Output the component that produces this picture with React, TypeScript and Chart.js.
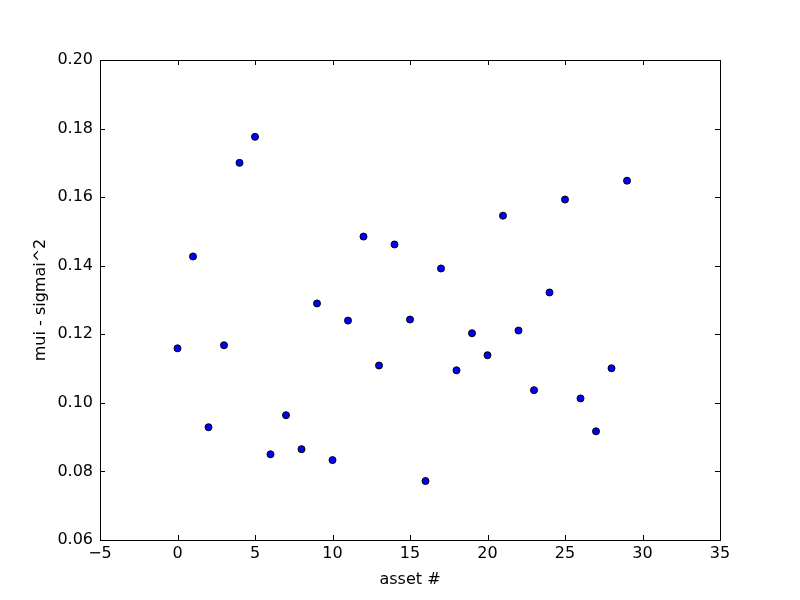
import React, { useEffect, useRef } from "react";
import { Chart, registerables } from "chart.js";

Chart.register(...registerables);

const assetIndex = [0,1,2,3,4,5,6,7,8,9,10,11,12,13,14,15,16,17,18,19,20,21,22,23,24,25,26,27,28,29];
const muiMinusSigma = [
  0.1159, 0.1427, 0.0929, 0.1168, 0.1700, 0.1776, 0.0850, 0.0964, 0.0865, 0.1290,
  0.0833, 0.1240, 0.1485, 0.1109, 0.1462, 0.1243, 0.0772, 0.1392, 0.1095, 0.1203,
  0.1139, 0.1546, 0.1211, 0.1037, 0.1322, 0.1593, 0.1013, 0.0917, 0.1101, 0.1648,
];
const xTicks = [-5, 0, 5, 10, 15, 20, 25, 30, 35];
const yTicks = [0.06, 0.08, 0.10, 0.12, 0.14, 0.16, 0.18, 0.20];
const xTitle = "asset #";
const yTitle = "mui - sigmai^2";

const FONT = "'DejaVu Sans', sans-serif";

const framePlugin = {
  id: "frame",
  afterDatasetsDraw(chart: any) {
    const { ctx, chartArea: a, scales } = chart;
    ctx.save();
    ctx.strokeStyle = "#000";
    ctx.lineWidth = 1;
    const L = 5;
    ctx.beginPath();
    for (const v of xTicks) {
      const px = Math.round(scales.x.getPixelForValue(v)) + 0.5;
      ctx.moveTo(px, a.bottom);
      ctx.lineTo(px, a.bottom - L);
      ctx.moveTo(px, a.top);
      ctx.lineTo(px, a.top + L);
    }
    for (const v of yTicks) {
      const py = Math.round(scales.y.getPixelForValue(v)) + 0.5;
      ctx.moveTo(a.left, py);
      ctx.lineTo(a.left + L, py);
      ctx.moveTo(a.right, py);
      ctx.lineTo(a.right - L, py);
    }
    ctx.stroke();
    ctx.strokeRect(Math.round(a.left) + 0.5, Math.round(a.top) + 0.5, Math.round(a.right - a.left), Math.round(a.bottom - a.top));
    ctx.restore();
  },
};

export default function App() {
  const ref = useRef<HTMLCanvasElement | null>(null);
  useEffect(() => {
    if (!ref.current) return;
    const chart = new Chart(ref.current, {
      type: "scatter",
      data: {
        datasets: [
          {
            data: assetIndex.map((x, i) => ({ x, y: muiMinusSigma[i] })),
            backgroundColor: "#0000ff",
            borderColor: "#000000",
            borderWidth: 1,
            pointRadius: 3.5,
          },
        ],
      },
      options: {
        animation: false,
        responsive: false,
        events: [],
        layout: { padding: { top: 60, right: 80, left: 0, bottom: 0 } },
        plugins: { legend: { display: false }, tooltip: { enabled: false } },
        scales: {
          x: {
            type: "linear",
            min: -5,
            max: 35,
            afterFit: (s: any) => { s.height = 60; },
            afterBuildTicks: (s: any) => { s.ticks = xTicks.map((v) => ({ value: v })); },
            grid: { display: false, drawTicks: false },
            border: { display: false },
            ticks: {
              padding: 4,
              color: "#000",
              font: { family: FONT, size: 16 },
              callback: (v: any) => (v < 0 ? "\u2212" + Math.abs(v) : String(v)),
              maxRotation: 0,
            },
            title: {
              display: true,
              text: xTitle,
              color: "#000",
              font: { family: FONT, size: 16 },
              padding: { top: 0, bottom: 11 },
            },
          },
          y: {
            type: "linear",
            min: 0.06,
            max: 0.2,
            afterFit: (s: any) => { s.width = 100; },
            afterBuildTicks: (s: any) => { s.ticks = yTicks.map((v) => ({ value: v })); },
            grid: { display: false, drawTicks: false },
            border: { display: false },
            ticks: {
              padding: 7,
              color: "#000",
              font: { family: FONT, size: 16 },
              callback: (v: any) => Number(v).toFixed(2),
            },
            title: {
              display: true,
              text: yTitle,
              color: "#000",
              font: { family: FONT, size: 16 },
              padding: { top: 31, bottom: 0 },
            },
          },
        },
      },
      plugins: [framePlugin],
    });
    return () => chart.destroy();
  }, []);
  return (
    <div style={{ position: "fixed", left: 0, top: 0, width: 800, height: 600, background: "#fff" }}>
      <canvas ref={ref} width={800} height={600} style={{ display: "block", width: 800, height: 600 }} />
    </div>
  );
}
